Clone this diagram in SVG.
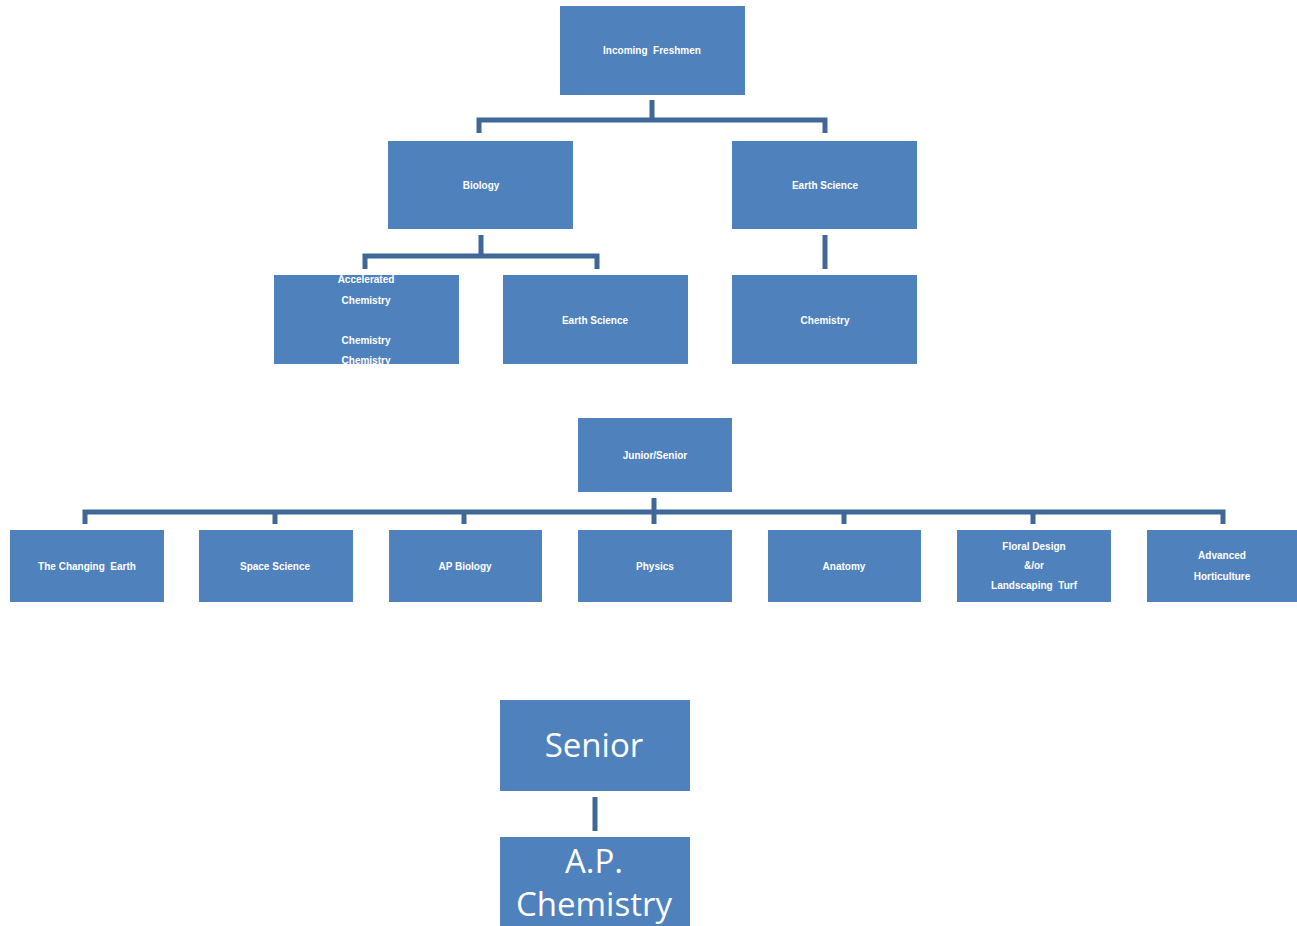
<svg xmlns="http://www.w3.org/2000/svg" width="1297" height="926" viewBox="0 0 1297 926">
<style>
.box{fill:#4F81BD}
.t{font-family:"Liberation Sans",Arial,sans-serif;font-size:10px;font-weight:bold;fill:#fff;text-anchor:middle;white-space:pre}
.big{font-family:"Open Sans","Liberation Sans",sans-serif;font-size:33px;fill:#fff;text-anchor:middle}
.c{stroke:#3F6797;stroke-width:5;fill:none}
</style>
<rect width="1297" height="926" fill="#fff"/>
<g id="connectors">
<path class="c" d="M652 100V120M479 133V120H825V133"/>
<path class="c" d="M481 235V256M365 269V256H597V269"/>
<path class="c" d="M825 235V269"/>
<path class="c" d="M654 498V524M85 524V512H1223V524M275 512V524M464 512V524M844 512V524M1033 512V524"/>
<path class="c" d="M595 797V831"/>
</g>
<g id="freshmen"><rect class="box" x="560" y="6" width="185" height="89"/><text class="t" x="652" y="54">Incoming  Freshmen</text></g>
<g id="biology"><rect class="box" x="388" y="141" width="185" height="88"/><text class="t" x="481" y="189">Biology</text></g>
<g id="earth1"><rect class="box" x="732" y="141" width="185" height="88"/><text class="t" x="825" y="189">Earth Science</text></g>
<g id="accel"><rect class="box" x="274" y="275" width="185" height="89"/>
<text class="t" x="366" y="283">Accelerated</text>
<text class="t" x="366" y="304">Chemistry</text>
<text class="t" x="366" y="344">Chemistry</text>
<text class="t" x="366" y="364">Chemistry</text></g>
<g id="earth2"><rect class="box" x="503" y="275" width="185" height="89"/><text class="t" x="595" y="324">Earth Science</text></g>
<g id="chem"><rect class="box" x="732" y="275" width="185" height="89"/><text class="t" x="825" y="324">Chemistry</text></g>
<g id="junsen"><rect class="box" x="578" y="418" width="154" height="74"/><text class="t" x="655" y="459">Junior/Senior</text></g>
<g id="changing"><rect class="box" x="10" y="530" width="154" height="72"/><text class="t" x="87" y="570">The Changing  Earth</text></g>
<g id="space"><rect class="box" x="199" y="530" width="154" height="72"/><text class="t" x="275" y="570">Space Science</text></g>
<g id="apbio"><rect class="box" x="389" y="530" width="153" height="72"/><text class="t" x="465" y="570">AP Biology</text></g>
<g id="physics"><rect class="box" x="578" y="530" width="154" height="72"/><text class="t" x="655" y="570">Physics</text></g>
<g id="anatomy"><rect class="box" x="768" y="530" width="153" height="72"/><text class="t" x="844" y="570">Anatomy</text></g>
<g id="floral"><rect class="box" x="957" y="530" width="154" height="72"/>
<text class="t" x="1034" y="550">Floral Design</text>
<text class="t" x="1034" y="569">&amp;/or</text>
<text class="t" x="1034" y="589">Landscaping  Turf</text></g>
<g id="horti"><rect class="box" x="1147" y="530" width="150" height="72"/>
<text class="t" x="1222" y="559">Advanced</text>
<text class="t" x="1222" y="580">Horticulture</text></g>
<g id="senior"><rect class="box" x="500" y="700" width="190" height="91"/><text class="big" x="594" y="757">Senior</text></g>
<g id="apchem"><rect class="box" x="500" y="837" width="190" height="89"/>
<text class="big" x="594" y="873">A.P.</text>
<text class="big" x="594" y="916">Chemistry</text></g>
</svg>
